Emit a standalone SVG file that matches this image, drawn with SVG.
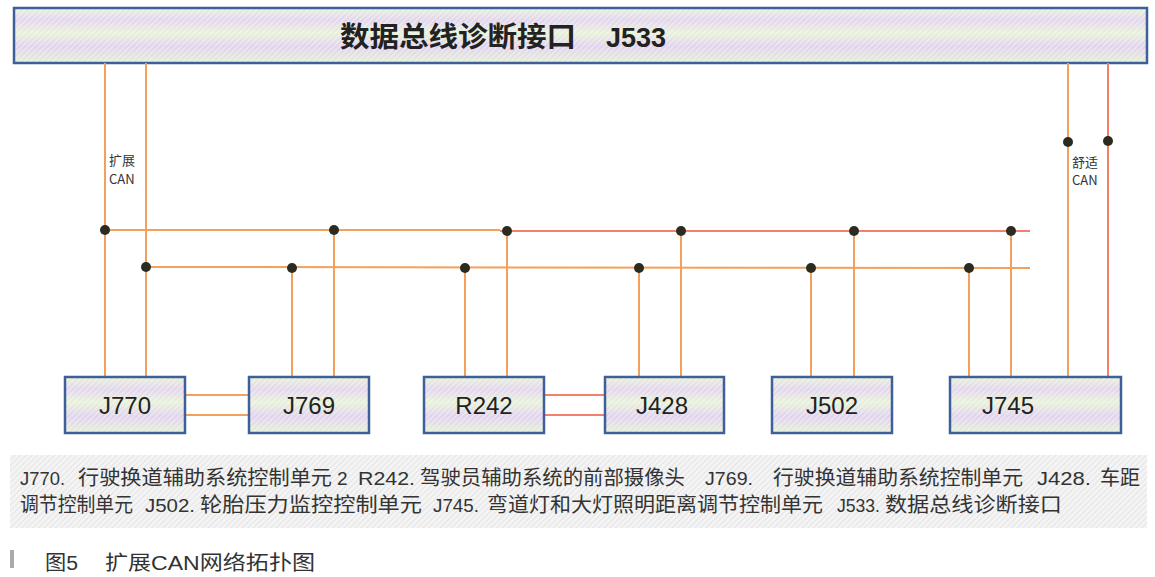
<svg xmlns="http://www.w3.org/2000/svg" width="1155" height="577" viewBox="0 0 1155 577">
<defs>
<linearGradient id="band" x1="0" y1="0" x2="0" y2="1">
<stop offset="0" stop-color="#e6f2d6"/>
<stop offset="0.22" stop-color="#e2d4ee"/>
<stop offset="0.45" stop-color="#e8f2d8"/>
<stop offset="0.7" stop-color="#e0d2ee"/>
<stop offset="1" stop-color="#e4f0d4"/>
</linearGradient>
<pattern id="hatch" width="4" height="4" patternUnits="userSpaceOnUse" patternTransform="rotate(45)">
<rect width="1.3" height="4" fill="#ffffff" fill-opacity="0.45"/>
</pattern>
<pattern id="gray" width="4" height="4" patternUnits="userSpaceOnUse" patternTransform="rotate(45)">
<rect width="4" height="4" fill="#f4f4f4"/>
<rect width="1" height="4" fill="#e4e4e4"/>
</pattern>
<style>
.bg{fill:url(#band)}
.box{fill:url(#hatch);stroke:#3e5f98;stroke-width:2.5}
.lbl{font-family:"Liberation Sans","Noto Sans CJK SC",sans-serif;font-size:24px;fill:#222;text-anchor:middle}
.w{stroke:#f5a05a;stroke-width:2;fill:none}
.r{stroke:#f2806a;stroke-width:2;fill:none}
.dot{fill:#2b2b22}
.sm{font-family:"Noto Sans CJK SC",sans-serif;font-size:13px;fill:#333}
.leg{font-family:"Liberation Sans","Noto Sans CJK SC",sans-serif;font-size:19px;fill:#333}
.cj{font-family:"Noto Sans CJK SC",sans-serif;font-size:20px;fill:#333}
</style>
</defs>
<rect width="1155" height="577" fill="#ffffff"/>
<g id="J533">
<rect class="bg" x="14" y="8" width="1133" height="55"/>
<rect class="box" x="14" y="8" width="1133" height="55"/>
<text x="340" y="47" font-family="'Noto Sans CJK SC',sans-serif" font-weight="bold" font-size="28" fill="#222" textLength="236" lengthAdjust="spacingAndGlyphs">数据总线诊断接口</text>
<text x="606" y="47" font-family="'Liberation Sans',sans-serif" font-weight="bold" font-size="27" fill="#222">J533</text>
</g>
<g id="connectors">
<line class="w" x1="105" y1="63" x2="105" y2="377"/>
<line class="w" x1="146" y1="63" x2="146" y2="377"/>
<line class="w" x1="1068" y1="63" x2="1068" y2="377"/>
<line class="r" x1="1108" y1="63" x2="1108" y2="377"/>
<line class="w" x1="105" y1="230" x2="500" y2="230"/>
<line class="r" x1="500" y1="231" x2="1030" y2="231"/>
<line class="w" x1="146" y1="267" x2="1030" y2="268"/>
<line class="w" x1="292" y1="267" x2="292" y2="377"/>
<line class="w" x1="334" y1="230" x2="334" y2="377"/>
<line class="w" x1="465" y1="267" x2="465" y2="377"/>
<line class="w" x1="507" y1="230" x2="507" y2="377"/>
<line class="w" x1="639" y1="268" x2="639" y2="377"/>
<line class="w" x1="681" y1="231" x2="681" y2="377"/>
<line class="w" x1="811" y1="268" x2="811" y2="377"/>
<line class="w" x1="854" y1="231" x2="854" y2="377"/>
<line class="w" x1="969" y1="268" x2="969" y2="377"/>
<line class="w" x1="1011" y1="231" x2="1011" y2="377"/>
<line class="w" x1="185" y1="395" x2="249" y2="395"/>
<line class="w" x1="185" y1="415" x2="249" y2="415"/>
<line class="r" x1="544" y1="395" x2="605" y2="395"/>
<line class="r" x1="544" y1="415" x2="605" y2="415"/>
<circle class="dot" cx="105" cy="230" r="5"/>
<circle class="dot" cx="334" cy="230" r="5"/>
<circle class="dot" cx="507" cy="231" r="5"/>
<circle class="dot" cx="681" cy="231" r="5"/>
<circle class="dot" cx="854" cy="231" r="5"/>
<circle class="dot" cx="1011" cy="231" r="5"/>
<circle class="dot" cx="146" cy="267" r="5"/>
<circle class="dot" cx="292" cy="268" r="5"/>
<circle class="dot" cx="465" cy="268" r="5"/>
<circle class="dot" cx="639" cy="268" r="5"/>
<circle class="dot" cx="811" cy="268" r="5"/>
<circle class="dot" cx="969" cy="268" r="5"/>
<circle class="dot" cx="1068" cy="142" r="5"/>
<circle class="dot" cx="1108" cy="141" r="5"/>
<text class="sm" x="109" y="165">扩展</text>
<text class="sm" x="109" y="184">CAN</text>
<text class="sm" x="1072" y="167">舒适</text>
<text class="sm" x="1072" y="185">CAN</text>
</g>
<g id="J770"><rect class="bg" x="65" y="377" width="120" height="56"/><rect class="box" x="65" y="377" width="120" height="56"/><text class="lbl" x="125" y="414">J770</text></g>
<g id="J769"><rect class="bg" x="249" y="377" width="120" height="56"/><rect class="box" x="249" y="377" width="120" height="56"/><text class="lbl" x="309" y="414">J769</text></g>
<g id="R242"><rect class="bg" x="424" y="377" width="120" height="56"/><rect class="box" x="424" y="377" width="120" height="56"/><text class="lbl" x="484" y="414">R242</text></g>
<g id="J428"><rect class="bg" x="605" y="377" width="119" height="56"/><rect class="box" x="605" y="377" width="119" height="56"/><text class="lbl" x="662" y="414">J428</text></g>
<g id="J502"><rect class="bg" x="772" y="377" width="120" height="56"/><rect class="box" x="772" y="377" width="120" height="56"/><text class="lbl" x="832" y="414">J502</text></g>
<g id="J745"><rect class="bg" x="950" y="377" width="171" height="56"/><rect class="box" x="950" y="377" width="171" height="56"/><text class="lbl" x="1008" y="414">J745</text></g>
<g id="legend">
<rect x="10" y="455" width="1137" height="73" fill="url(#gray)"/>
<text class="leg" x="20" y="485" textLength="45" lengthAdjust="spacingAndGlyphs">J770.</text>
<text class="cj" x="78" y="485" textLength="254" lengthAdjust="spacingAndGlyphs">行驶换道辅助系统控制单元</text>
<text class="leg" x="337" y="485">2</text>
<text class="leg" x="358" y="485" textLength="57" lengthAdjust="spacingAndGlyphs">R242.</text>
<text class="cj" x="420" y="485" textLength="265" lengthAdjust="spacingAndGlyphs">驾驶员辅助系统的前部摄像头</text>
<text class="leg" x="705" y="485" textLength="48" lengthAdjust="spacingAndGlyphs">J769.</text>
<text class="cj" x="773" y="485" textLength="250" lengthAdjust="spacingAndGlyphs">行驶换道辅助系统控制单元</text>
<text class="leg" x="1037" y="485" textLength="54" lengthAdjust="spacingAndGlyphs">J428.</text>
<text class="cj" x="1100" y="485" textLength="40" lengthAdjust="spacingAndGlyphs">车距</text>
<text class="cj" x="20" y="512" textLength="113" lengthAdjust="spacingAndGlyphs">调节控制单元</text>
<text class="leg" x="145" y="512" textLength="50" lengthAdjust="spacingAndGlyphs">J502.</text>
<text class="cj" x="200" y="512" textLength="222" lengthAdjust="spacingAndGlyphs">轮胎压力监控控制单元</text>
<text class="leg" x="433" y="512" textLength="46" lengthAdjust="spacingAndGlyphs">J745.</text>
<text class="cj" x="487" y="512" textLength="336" lengthAdjust="spacingAndGlyphs">弯道灯和大灯照明距离调节控制单元</text>
<text class="leg" x="837" y="512" textLength="43" lengthAdjust="spacingAndGlyphs">J533.</text>
<text class="cj" x="885" y="512" textLength="177" lengthAdjust="spacingAndGlyphs">数据总线诊断接口</text>
</g>
<g id="caption">
<rect x="10" y="550" width="4" height="18" fill="#aaa"/>
<text x="45" y="570" font-family="'Liberation Sans','Noto Sans CJK SC',sans-serif" font-size="20" fill="#333" textLength="33" lengthAdjust="spacingAndGlyphs">图5</text>
<text x="105" y="570" font-family="'Liberation Sans','Noto Sans CJK SC',sans-serif" font-size="20" fill="#333" textLength="210" lengthAdjust="spacingAndGlyphs">扩展CAN网络拓扑图</text>
</g>
</svg>
